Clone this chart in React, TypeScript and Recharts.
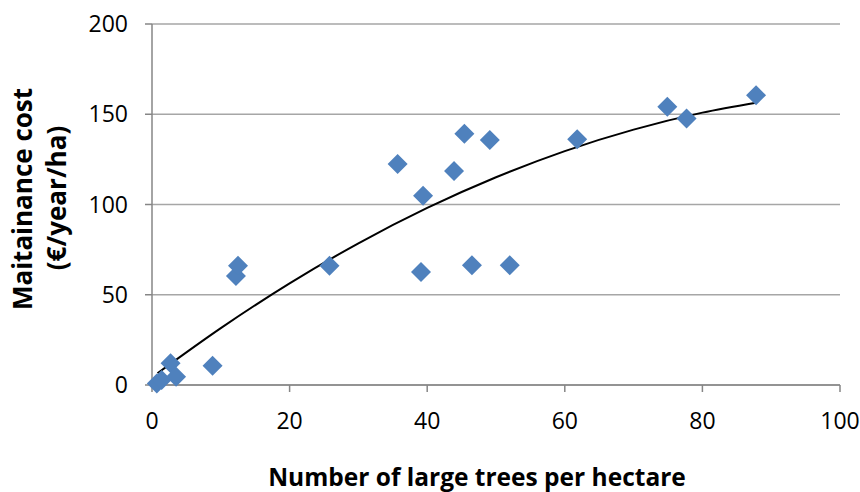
import React from "react";
import { ComposedChart, Scatter, Line, XAxis, YAxis, CartesianGrid } from "recharts";

// trees per hectare vs maintenance cost
const treesPerHa = [0.7, 1.4, 2.7, 3.5, 8.8, 12.2, 12.5, 25.8, 35.7, 39.1, 39.4, 43.9, 45.4, 46.5, 49.1, 52.0, 61.8, 74.9, 77.7, 87.8];
const costPerHa = [0.9, 2.8, 12.0, 4.6, 10.7, 60.4, 66.0, 66.1, 122.4, 62.6, 104.9, 118.6, 139.2, 66.3, 135.7, 66.3, 136.1, 154.2, 147.7, 160.5];

// trendline (polynomial, as drawn in the source)
const trendX = [0.8, 10, 20, 30, 40, 50, 60, 70, 80, 87.8];
const trendY = [6.5, 31.5, 56.3, 78.5, 98.1, 115.1, 129.6, 141.5, 150.9, 156.4];

const xTicks = [0, 20, 40, 60, 80, 100];
const yTicks = [0, 50, 100, 150, 200];

const points = treesPerHa.map((x, i) => ({ x, y: costPerHa[i] }));
const trend = trendX.map((x, i) => ({ x, y: trendY[i] }));

const FONT = "'Open Sans', Lato, sans-serif";
const BLUE = "#4F81BD";

const Diamond = (props: any) => {
    const { cx, cy } = props;
    const r = 10;
    return (
        <polygon
            points={`${cx},${cy - r} ${cx + r},${cy} ${cx},${cy + r} ${cx - r},${cy}`}
            fill={BLUE}
        />
    );
};

const YTitle = () => (
    <g fontFamily={FONT} fontWeight="bold" fontSize={26} fill="#000">
        <text x={32} y={199} transform="rotate(-90 32 199)" textAnchor="middle">
            Maitainance cost
        </text>
        <text x={66} y={198} transform="rotate(-90 66 198)" textAnchor="middle">
            (€/year/ha)
        </text>
    </g>
);

const XTitle = () => (
    <text x={477} y={486} textAnchor="middle" fontFamily={FONT} fontWeight="bold" fontSize={24.5} fill="#000">
        Number of large trees per hectare
    </text>
);

export default function App() {
    return (
        <div style={{ position: "absolute", left: 0, top: 0, width: 860, height: 492, background: "#fff" }}>
            <ComposedChart
                width={860}
                height={492}
                margin={{ top: 24, right: 20, bottom: 0, left: 0 }}
            >
                <CartesianGrid vertical={false} stroke="#A6A6A6" strokeWidth={1.5} />
                <XAxis
                    dataKey="x"
                    type="number"
                    domain={[0, 100]}
                    ticks={xTicks}
                    height={107}
                    tickSize={7}
                    tickMargin={21}
                    stroke="#868686"
                    strokeWidth={1.5}
                    tick={{ fill: "#000", fontSize: 23, fontFamily: FONT }}
                    label={{ content: () => <XTitle /> }}
                />
                <YAxis
                    dataKey="y"
                    type="number"
                    domain={[0, 200]}
                    ticks={yTicks}
                    width={152}
                    tickSize={7}
                    tickMargin={17}
                    stroke="#868686"
                    strokeWidth={1.5}
                    tick={{ fill: "#000", fontSize: 23, fontFamily: FONT }}
                    label={{ content: () => <YTitle /> }}
                />
                <Scatter data={points} dataKey="y" shape={<Diamond />} isAnimationActive={false} />
                <Line
                    data={trend}
                    dataKey="y"
                    type="monotone"
                    stroke="#000"
                    strokeWidth={2}
                    dot={false}
                    activeDot={false}
                    isAnimationActive={false}
                />
            </ComposedChart>
        </div>
    );
}
